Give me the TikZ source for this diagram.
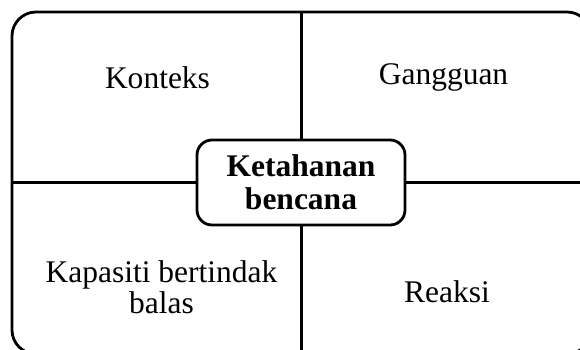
\documentclass[tikz,border=0pt]{standalone}
\usepackage{fontspec}
\setmainfont{Liberation Serif}
\begin{document}
\begin{tikzpicture}[x=1pt,y=-1pt,
  frame/.style={line width=2.8pt,rounded corners=24pt},
  divider/.style={line width=3.2pt},
  corebox/.style={draw,line width=2.8pt,rounded corners=15pt,minimum width=208pt,minimum height=85pt,inner sep=0pt,align=center,font=\fontsize{31.5}{33}\selectfont\bfseries},
  label/.style={anchor=base,inner sep=0pt,align=center,font=\fontsize{31.5}{32}\selectfont}]
\useasboundingbox (0,0) rectangle (580,349);
\fill[white] (0,0) rectangle (580,349);
\draw[frame] (12,12) rectangle (591,354);
\node[corebox] (core) at (301,182.5) {Ketahanan\\bencana};
\coordinate (top) at (301.5,12);
\coordinate (bottom) at (301.5,354);
\coordinate (left) at (12,182.5);
\coordinate (right) at (591,182.5);
\draw[divider] (top) -- (top |- core.north);
\draw[divider] (bottom |- core.south) -- (bottom);
\draw[divider] (left) -- (core.west);
\draw[divider] (core.east) -- (right);
\node[label] (konteks) at (157.5,88) {Konteks};
\node[label] (gangguan) at (443.5,84) {Gangguan};
\node[label] (kapasiti) at (161.5,282) {Kapasiti bertindak};
\node[label] (balas) at (161.5,313) {balas};
\node[label] (reaksi) at (447,302) {Reaksi};
\end{tikzpicture}
\end{document}
